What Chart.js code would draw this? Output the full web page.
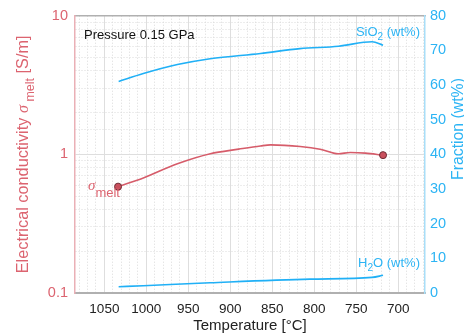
<!DOCTYPE html>
<html><head><meta charset="utf-8">
<script src="https://cdn.jsdelivr.net/npm/chart.js@4/dist/chart.umd.min.js"></script>
<style>html,body{margin:0;padding:0;background:#fff}#wrap{width:464px;height:336px;position:relative}</style>
</head><body><div id="wrap"><canvas id="c"></canvas></div>
<script>
// ---- data ----
const sigmaTemps  = [1033.7, 1003.6, 963, 923.8, 890, 864, 852, 816.7, 793, 771.4, 757, 739, 718];
const sigmaValues = [0.585, 0.676, 0.855, 1.01, 1.09, 1.15, 1.17, 1.14, 1.09, 1.01, 1.03, 1.02, 0.987];
const sio2Temps   = [1033, 1003.6, 963, 924, 864, 817, 771, 731, 718];
const sio2Values  = [61.0, 63.3, 65.9, 67.6, 69.1, 70.5, 71.2, 72.5, 71.5];
const h2oTemps    = [1033, 1003.6, 924, 805, 731, 718];
const h2oValues   = [1.8, 2.1, 2.95, 4.0, 4.5, 5.1];
const xTickValues = [670,680,690,700,710,720,730,740,750,760,770,780,790,800,810,820,830,840,850,860,870,880,890,900,910,920,930,940,950,960,970,980,990,1000,1010,1020,1030,1040,1050,1060,1070,1080];
const xLabelValues = [1050, 1000, 950, 900, 850, 800, 750, 700];
const leftTickLabels = ['0.1', '1', '10'];
const rightTickValues = [0,10,20,30,40,50,60,70,80];
const pressureLabel = 'Pressure 0.15 GPa';

const FONT = '"Helvetica Neue", Helvetica, "Liberation Sans", Arial, sans-serif';
const RED = '#dc6470', RED_LINE = '#d65c6a', BLUE = '#2cb4f4', BLUE_LINE = '#20b0f6';

const pts = (xs, ys) => xs.map((x, i) => ({x, y: ys[i]}));
const isPow10 = v => Math.abs(Math.log10(v) - Math.round(Math.log10(v))) < 1e-9;

function richWidth(ctx, parts){ let w=0; for(const p of parts){ ctx.font=(p.it?'italic ':'')+p.s+'px '+(p.f||FONT); w+=ctx.measureText(p.t).width; } return w; }
function drawRich(ctx, parts, x, y){ let cx=x; for(const p of parts){ ctx.font=(p.it?'italic ':'')+p.s+'px '+(p.f||FONT); ctx.fillText(p.t, cx, y+(p.dy||0)); cx+=ctx.measureText(p.t).width; } }

const textPlugin = {
  id: 'texts',
  afterDraw(chart){
    const ctx = chart.ctx, a = chart.chartArea;
    ctx.save();
    ctx.textBaseline = 'alphabetic'; ctx.textAlign = 'left';
    ctx.fillStyle = '#111';
    ctx.font = '13px ' + FONT;
    ctx.fillText(pressureLabel, a.left + 9, a.top + 23);
    // series labels
    ctx.fillStyle = BLUE;
    const sio2 = [{t:'SiO',s:13},{t:'2',s:10,dy:4},{t:' (wt%)',s:13}];
    drawRich(ctx, sio2, a.right - 5 - richWidth(ctx, sio2), a.top + 20);
    const h2o = [{t:'H',s:13},{t:'2',s:10,dy:4},{t:'O (wt%)',s:13}];
    drawRich(ctx, h2o, a.right - 5 - richWidth(ctx, h2o), a.bottom - 26);
    ctx.fillStyle = RED;
    const sm = [{t:'σ',s:15,it:true,f:'"Liberation Serif", "DejaVu Serif", serif'},{t:'melt',s:13,dy:7}];
    drawRich(ctx, sm, a.left + 13, a.top + 174);
    // left axis title (rotated)
    const lt = [{t:'Electrical conductivity ',s:16.3},{t:'σ',s:16.3,it:true,f:'"Liberation Serif", "DejaVu Serif", serif'},{t:' melt',s:12.5,dy:6},{t:' [S/m]',s:16.3}];
    ctx.save();
    ctx.translate(28, (a.top + a.bottom) / 2);
    ctx.rotate(-Math.PI / 2);
    drawRich(ctx, lt, -richWidth(ctx, lt) / 2, 0);
    ctx.restore();
    // right axis title
    ctx.fillStyle = BLUE;
    ctx.save();
    ctx.translate(463, 129);
    ctx.rotate(-Math.PI / 2);
    ctx.font = '15.8px ' + FONT; ctx.textAlign = 'center';
    ctx.fillText('Fraction (wt%)', 0, 0);
    ctx.restore();
    ctx.restore();
  }
};

new Chart(document.getElementById('c'), {
  type: 'line',
  data: {
    datasets: [
      { label: 'sigma', data: pts(sigmaTemps, sigmaValues), yAxisID: 'y',
        borderColor: RED_LINE, borderWidth: 1.6, cubicInterpolationMode: 'monotone',
        pointRadius: c => (c.dataIndex === 0 || c.dataIndex === sigmaTemps.length - 1) ? 3.5 : 0,
        pointBackgroundColor: '#c9505d', pointBorderColor: '#6e2a33', pointBorderWidth: 1 },
      { label: 'SiO2', data: pts(sio2Temps, sio2Values), yAxisID: 'y2',
        borderColor: BLUE_LINE, borderWidth: 1.6, cubicInterpolationMode: 'monotone', pointRadius: 0 },
      { label: 'H2O', data: pts(h2oTemps, h2oValues), yAxisID: 'y2',
        borderColor: BLUE_LINE, borderWidth: 1.6, cubicInterpolationMode: 'monotone', pointRadius: 0 }
    ]
  },
  options: {
    responsive: true, maintainAspectRatio: false, animation: false,
    layout: { padding: 0 },
    plugins: { legend: { display: false }, tooltip: { enabled: false } },
    scales: {
      x: { type: 'linear', reverse: true, min: 668, max: 1085, position: 'bottom',
        afterBuildTicks: s => { s.ticks = xTickValues.map(v => ({value: v})); },
        afterFit: s => { s.height = 43; },
        ticks: { autoSkip: false, maxRotation: 0, color: '#222', font: { size: 13.5, family: FONT }, padding: 8,
                 callback: v => xLabelValues.includes(v) ? String(v) : '' },
        grid: { color: c => (c.tick && xLabelValues.includes(c.tick.value)) ? '#dedede' : '#dadada', drawTicks: false },
        border: { color: '#b0b0b0', width: 2, dash: c => (c.tick && !xLabelValues.includes(c.tick.value)) ? [1, 2] : [] },
        title: { display: true, text: 'Temperature [°C]', color: '#222', font: { size: 15, family: FONT }, padding: { top: 0, bottom: 1 } }
      },
      xTop: { type: 'linear', reverse: true, min: 668, max: 1085, position: 'top',
        afterFit: s => { s.height = 14; },
        ticks: { display: false }, grid: { drawOnChartArea: false, drawTicks: false },
        border: { color: '#b0b0b0', width: 1.5 } },
      y: { type: 'logarithmic', min: 0.1, max: 10, position: 'left',
        afterFit: s => { s.width = 75; },
        ticks: { autoSkip: false, color: RED, font: { size: 14.5, family: FONT }, padding: 7,
                 callback: v => isPow10(v) ? leftTickLabels[Math.round(Math.log10(v)) + 1] : '' },
        grid: { color: c => (c.tick && isPow10(c.tick.value)) ? '#dedede' : '#dadada', drawTicks: false },
        border: { color: '#eab0b6', width: 1.5, dash: c => (c.tick && !isPow10(c.tick.value)) ? [1, 2] : [] }
      },
      y2: { type: 'linear', min: 0, max: 80, position: 'right',
        afterBuildTicks: s => { s.ticks = rightTickValues.map(v => ({value: v})); },
        afterFit: s => { s.width = 39; },
        ticks: { color: BLUE, font: { size: 14.5, family: FONT }, padding: 5 },
        grid: { drawOnChartArea: false, drawTicks: false },
        border: { color: '#a8def8', width: 1.5 }
      }
    }
  },
  plugins: [textPlugin]
});
</script>
</body></html>
